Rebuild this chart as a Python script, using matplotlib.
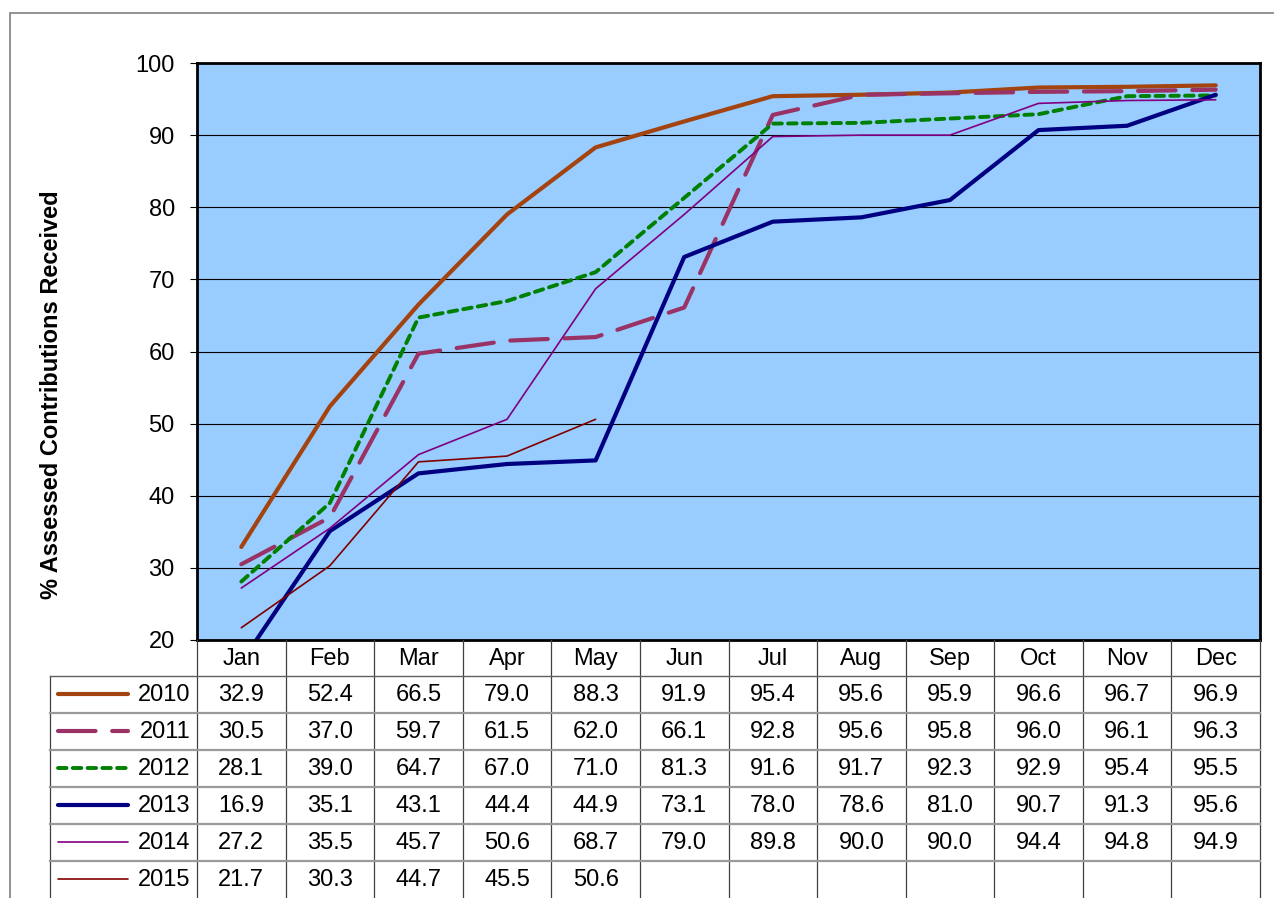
import matplotlib
matplotlib.use("Agg")
import matplotlib.pyplot as plt
from matplotlib.patches import Rectangle
from matplotlib.lines import Line2D

plt.rcParams['font.family'] = ['Liberation Sans', 'DejaVu Sans']

months = ['Jan', 'Feb', 'Mar', 'Apr', 'May', 'Jun', 'Jul', 'Aug', 'Sep', 'Oct', 'Nov', 'Dec']
years = ['2010', '2011', '2012', '2013', '2014', '2015']
v2010 = [32.9, 52.4, 66.5, 79.0, 88.3, 91.9, 95.4, 95.6, 95.9, 96.6, 96.7, 96.9]
v2011 = [30.5, 37.0, 59.7, 61.5, 62.0, 66.1, 92.8, 95.6, 95.8, 96.0, 96.1, 96.3]
v2012 = [28.1, 39.0, 64.7, 67.0, 71.0, 81.3, 91.6, 91.7, 92.3, 92.9, 95.4, 95.5]
v2013 = [16.9, 35.1, 43.1, 44.4, 44.9, 73.1, 78.0, 78.6, 81.0, 90.7, 91.3, 95.6]
v2014 = [27.2, 35.5, 45.7, 50.6, 68.7, 79.0, 89.8, 90.0, 90.0, 94.4, 94.8, 94.9]
v2015 = [21.7, 30.3, 44.7, 45.5, 50.6]
series = [v2010, v2011, v2012, v2013, v2014, v2015]

colors = ['#A3430F', '#993366', '#008000', '#000080', '#800080', '#800000']
widths = [3.0, 3.0, 2.8, 3.0, 1.2, 1.2]
dashes = [None, (9, 4), (2.2, 1.6), None, None, None]

W, H = 1274, 898
fs = 17
fig = plt.figure(figsize=(W / 100, H / 100), dpi=100)

def box(x0, y0, x1, y1):
    return [x0 / W, 1 - y1 / H, (x1 - x0) / W, (y1 - y0) / H]

# outer chart frame
fig.patches.append(Rectangle((10 / W, -0.1), 1.2, 1 - 13 / H + 0.1, transform=fig.transFigure,
                             facecolor='none', edgecolor='#808080', lw=1.2))

px0, px1, py0, py1 = 197, 1260, 63, 640
ax = fig.add_axes(box(px0, py0, px1, py1))
ax.set_facecolor('#99CCFF')
for i, vals in enumerate(series):
    ln, = ax.plot(range(len(vals)), vals, color=colors[i], lw=widths[i], solid_capstyle='round',
                  dash_capstyle='round', solid_joinstyle='round')
    if dashes[i]:
        ln.set_dashes(dashes[i])
ax.set_xlim(-0.5, 11.5)
ax.set_ylim(20, 100)
ax.set_yticks(range(20, 101, 10))
ax.yaxis.grid(True, color='black', lw=0.8)
ax.set_axisbelow(True)
ax.set_xticks([])
ax.tick_params(axis='y', labelsize=fs, length=5, width=0.8, pad=11)
for s in ax.spines.values():
    s.set_linewidth(2)
    s.set_color('black')
fig.text(52 / W, 1 - 395 / H, '% Assessed Contributions Received', rotation=90,
         ha='center', va='center', fontsize=fs, fontweight='bold')

# data table underneath
unit = (px1 - px0) / 12.0
tx0 = 50
tax = fig.add_axes(box(tx0, 640, px1, 898))
tax.set_xlim(-0.5 - (px0 - tx0) / unit, 11.5)
tax.set_ylim(898, 640)
tax.axis('off')

row_top = [640, 676, 712.5, 749.5, 786.5, 823.5, 860.5, 897.5]
left = tax.get_xlim()[0]
# vertical lines
for k in range(13):
    tax.plot([k - 0.5, k - 0.5], [640, 898], color='#404040', lw=0.9, clip_on=False)
tax.plot([left, left], [676, 898], color='#404040', lw=0.9, clip_on=False)
# horizontal lines
for r in range(1, 7):
    tax.plot([left, 11.5], [row_top[r], row_top[r]], color='#606060' if r == 1 else '#9a9a9a',
             lw=1.0 if r == 1 else 1.6, clip_on=False)

for k, m in enumerate(months):
    tax.text(k, (row_top[0] + row_top[1]) / 2 + 1, m, ha='center', va='center', fontsize=fs)

for i, vals in enumerate(series):
    yc = (row_top[i + 1] + row_top[i + 2]) / 2
    for k, v in enumerate(vals):
        tax.text(k, yc + 1, f'{v:.1f}', ha='center', va='center', fontsize=fs)
    tax.text(-0.57, yc + 1, years[i], ha='right', va='center', fontsize=fs)
    kx0 = left + 8 / unit
    kx1 = left + 78 / unit
    key = Line2D([kx0, kx1], [yc, yc], color=colors[i], lw=widths[i],
                 solid_capstyle='round', dash_capstyle='round')
    if dashes[i]:
        key.set_dashes(dashes[i])
    tax.add_line(key)

fig.savefig('out.png', dpi=100, facecolor='white')
